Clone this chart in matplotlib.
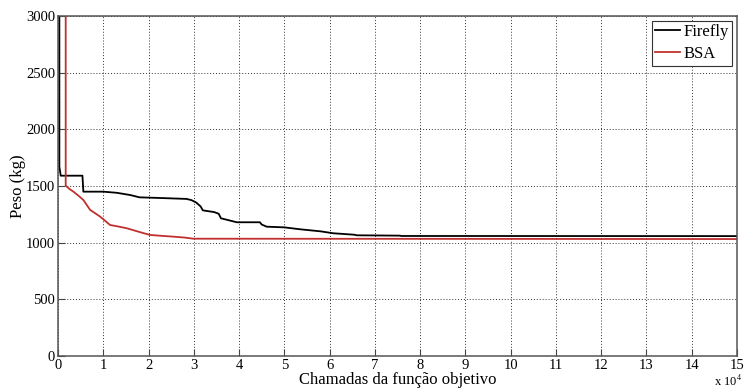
import numpy as np
import matplotlib
matplotlib.use('Agg')
import matplotlib.pyplot as plt

# convergence curves (x in units of 1e4 function calls, y in kg)
firefly_x = [0.03, 0.03, 0.06, 0.54, 0.56, 1.0, 1.3, 1.6, 1.8, 2.2, 2.84, 2.95, 3.05, 3.15,
             3.2, 3.45, 3.55, 3.6, 3.95, 4.46, 4.5, 4.61, 5.0, 5.35, 5.8, 6.08, 6.55, 6.6,
             7.55, 7.59, 15]
firefly_y = [3000, 1671, 1591, 1591, 1450, 1450, 1440, 1420, 1400, 1395, 1386, 1375, 1355, 1320,
             1285, 1270, 1255, 1215, 1180, 1180, 1160, 1141, 1135, 1118, 1100, 1083, 1070, 1065,
             1062, 1059, 1058]
bsa_x = [0.17, 0.17, 0.25, 0.34, 0.45, 0.56, 0.71, 0.8, 0.93, 1.05, 1.15, 1.3, 1.52,
         1.75, 2.03, 2.3, 2.55, 2.8, 2.99, 15]
bsa_y = [3000, 1503, 1475, 1450, 1415, 1377, 1289, 1265, 1230, 1190, 1156, 1145, 1127,
         1100, 1068, 1060, 1053, 1045, 1035, 1032]

x_ticks = np.arange(0, 16, 1)
y_ticks = np.arange(0, 3001, 500)

plt.rcParams['font.family'] = ['Liberation Serif', 'DejaVu Serif']
plt.rcParams['mathtext.fontset'] = 'stix'

fig = plt.figure(figsize=(7.44, 3.9), dpi=100)
ax = fig.add_axes([58/744, 34/390, (737-58)/744, (356-16)/390])

ax.plot(firefly_x, firefly_y, color='black', lw=1.3, label='Firefly')
ax.plot(bsa_x, bsa_y, color='#c0302e', lw=1.3, label='BSA')

ax.set_xlim(0, 15)
ax.set_ylim(0, 3000)
ax.set_xticks(x_ticks)
ax.set_yticks(y_ticks)
ax.tick_params(direction='in', length=5, width=0.8, color='#444444',
               labelsize=10.5, pad=2, top=False, right=False)
for s in ax.spines.values():
    s.set_color('#555555')
    s.set_linewidth(1.1)

ax.grid(True, color='black', linestyle=(0, (1, 2)), linewidth=0.7, alpha=0.8)

ax.set_xlabel('Chamadas da função objetivo', fontsize=12, labelpad=0)
ax.set_ylabel('Peso (kg)', fontsize=12, labelpad=0)

fig.text(742/744, 1/390, r'x 10$^4$', ha='right', va='bottom', fontsize=9)

leg = ax.legend(loc='upper right', fontsize=12, fancybox=False, framealpha=1,
                edgecolor='#333333', handlelength=1.5, handletextpad=0.2,
                borderpad=0.2, labelspacing=0.35, borderaxespad=0.3)
leg.get_frame().set_linewidth(0.8)

fig.savefig('out.png', dpi=100)
